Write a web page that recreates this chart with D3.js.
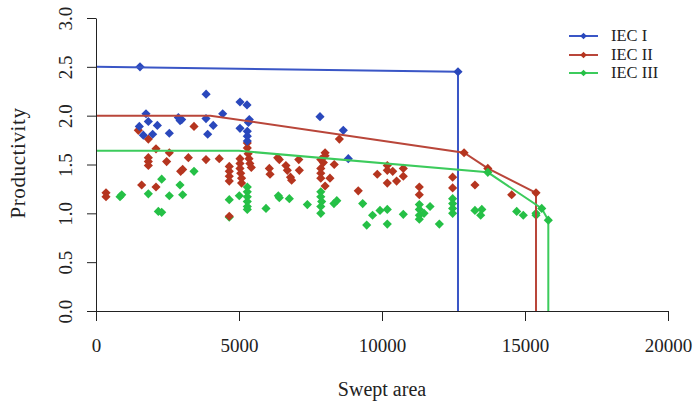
<!DOCTYPE html>
<html><head><meta charset="utf-8">
<script src="https://cdn.jsdelivr.net/npm/d3@7"></script>
<style>body{margin:0;background:#fff}svg{display:block}</style>
</head><body><svg id="c" width="694" height="401"></svg>
<script>
const xTicks=[0,5000,10000,15000,20000];
const yTicks=[0,0.5,1.0,1.5,2.0,2.5,3.0];
const seriesNames=["IEC I","IEC II","IEC III"];
const blueX=[1538,3850,5035,5280,1748,1830,1515,1654,1981,2145,2564,2879,2995,2940,3846,4100,3905,4430,5035,5360,5330,5290,5290,5290,7832,8647,8822];
const blueY=[2.50,2.22,2.14,2.11,2.02,1.94,1.89,1.80,1.81,1.90,1.82,1.98,1.96,1.95,1.97,1.90,1.81,2.02,1.87,1.96,1.93,1.84,1.79,1.74,1.99,1.85,1.56];
const redX=[350,350,1480,1830,2098,1830,1830,1830,1597,2098,2564,2470,2960,3030,3230,3427,3846,4310,4660,4660,4660,4660,4660,5035,5035,5035,5060,5090,5090,5290,5290,5320,5350,5380,5430,6060,6085,6353,6410,6640,6690,6800,6840,7090,7110,7860,7860,7860,7860,8010,8010,7950,8010,8180,8330,8510,9170,9835,10185,10185,10375,10185,10510,10745,10745,11305,11305,12470,12470,13250,14535];
const redY=[1.21,1.17,1.85,1.76,1.66,1.57,1.53,1.49,1.29,1.27,1.62,1.53,1.43,1.45,1.57,1.89,1.55,1.56,1.48,1.43,1.38,1.33,0.97,1.56,1.51,1.46,1.41,1.36,1.31,1.72,1.67,1.61,1.56,1.51,1.47,1.46,1.40,1.57,1.55,1.49,1.44,1.37,1.34,1.55,1.44,1.55,1.46,1.41,1.36,1.62,1.59,1.52,1.28,1.36,1.50,1.76,1.23,1.40,1.49,1.44,1.43,1.31,1.33,1.46,1.38,1.27,1.19,1.37,1.26,1.29,1.19];
const greenX=[840,900,1830,2297,2180,2297,2564,2937,3030,3427,4660,4660,5010,5290,5290,5290,5290,5290,5290,5944,6375,6410,6760,7390,7860,7860,7890,7860,7860,8320,8420,9325,9465,9670,9930,10185,10185,10745,11305,11305,11305,11305,11470,11680,12005,12470,12470,12470,12470,13250,13490,13450,14710,14940,15385,15385];
const greenY=[1.17,1.19,1.20,1.35,1.02,1.01,1.18,1.29,1.19,1.43,1.14,0.96,1.18,1.27,1.22,1.17,1.12,1.07,1.04,1.05,1.18,1.16,1.15,1.09,1.22,1.17,1.12,1.07,1.00,1.10,1.13,1.10,0.88,0.98,1.03,1.04,0.89,0.99,1.09,1.04,0.98,0.94,1.00,1.07,0.89,1.15,1.10,1.05,1.00,1.03,1.04,0.98,1.02,0.98,1.00,0.98];
const lineIX=[0,12657,12657], lineIY=[2.50,2.45,0];
const lineIIX=[0,4000,12870,13700,15385,15385], lineIIY=[2.00,2.00,1.62,1.46,1.21,0];
const lineIIIX=[0,5000,13700,15585,15815,15815], lineIIIY=[1.64,1.64,1.42,1.05,0.93,0];
const markIdxI=[1], markIdxII=[2,3,4], markIdxIII=[2,3,4];

const svg=d3.select("#c");
const x=d3.scaleLinear().domain([0,20000]).range([96,668]);
const y=d3.scaleLinear().domain([0,3]).range([311,18]);
const font="'Liberation Serif','Times New Roman',serif";
const cols={pt:["#2a48bc","#b5351f","#25c046"],ln:["#3a56c6","#b9463a","#3ccb5c"]};
const diamond=d3.symbol().type(d3.symbolSquare).size(42);

function drawPts(xs,ys,c){
  svg.append("g").selectAll("path").data(xs.map((v,i)=>[v,ys[i]])).join("path")
    .attr("d",diamond).attr("fill",c)
    .attr("transform",d=>`translate(${x(d[0])},${y(d[1])}) rotate(45)`);
}
drawPts(greenX,greenY,cols.pt[2]);
drawPts(redX,redY,cols.pt[1]);
drawPts(blueX,blueY,cols.pt[0]);

const lines=[[lineIX,lineIY,markIdxI],[lineIIX,lineIIY,markIdxII],[lineIIIX,lineIIIY,markIdxIII]];
const lg=d3.line().x(d=>x(d[0])).y(d=>y(d[1]));
lines.forEach((L,k)=>{
  const pts=L[0].map((v,i)=>[v,L[1][i]]);
  svg.append("path").attr("d",lg(pts)).attr("fill","none").attr("stroke",cols.ln[k]).attr("stroke-width",2);
  svg.append("g").selectAll("path").data(L[2].map(i=>pts[i])).join("path")
    .attr("d",diamond).attr("fill",cols.pt[k])
    .attr("transform",d=>`translate(${x(d[0])},${y(d[1])}) rotate(45)`);
});

// axes
const ax=svg.append("g").attr("transform","translate(0,311)")
  .call(d3.axisBottom(x).tickValues(xTicks).tickFormat(d3.format("d")).tickSize(10).tickSizeOuter(0));
const ay=svg.append("g").attr("transform","translate(96,0)")
  .call(d3.axisLeft(y).tickValues(yTicks).tickFormat(d3.format(".1f")).tickSize(9).tickSizeOuter(0));
[ax,ay].forEach(a=>{a.select(".domain").attr("stroke","#222");a.selectAll("line").attr("stroke","#222");
  a.selectAll("text").attr("font-family",font).attr("font-size",19).attr("fill","#222");});
ax.selectAll("text").attr("y",41).attr("dy",null);
ay.selectAll("text").attr("x",null).attr("dy",null).attr("text-anchor","middle")
  .attr("dominant-baseline","central").attr("transform","translate(-31,0) rotate(-90)");

svg.append("text").attr("x",382).attr("y",396).attr("text-anchor","middle")
  .attr("font-family",font).attr("font-size",20).attr("fill","#222").text("Swept area");
svg.append("text").attr("transform","translate(18,163) rotate(-90)").attr("text-anchor","middle")
  .attr("dominant-baseline","central").attr("font-family",font).attr("font-size",21).attr("letter-spacing","0.6")
  .attr("fill","#222").text("Productivity");

// legend
const legY=[36,55,73];
seriesNames.forEach((n,k)=>{
  const g=svg.append("g").attr("transform",`translate(0,${legY[k]})`);
  g.append("line").attr("x1",569).attr("x2",598).attr("stroke",cols.ln[k]).attr("stroke-width",2);
  g.append("path").attr("d",d3.symbol().type(d3.symbolSquare).size(22)).attr("fill",cols.pt[k]).attr("transform","translate(583.5,0) rotate(45)");
  g.append("text").attr("x",611).attr("y",5).attr("font-family",font).attr("font-size",16.5).attr("fill","#222").text(n);
});
</script></body></html>
